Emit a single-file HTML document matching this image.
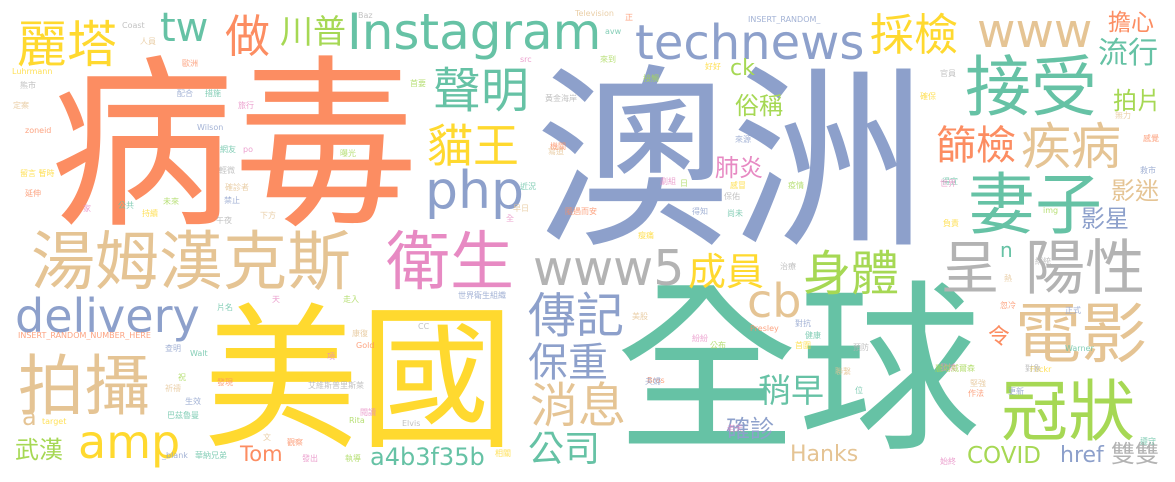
<!DOCTYPE html>
<html><head><meta charset="utf-8">
<style>
html,body{margin:0;padding:0;background:#fff;}
#cloud{position:relative;width:1175px;height:482px;overflow:hidden;background:#fff;}
#cloud span{position:absolute;white-space:nowrap;line-height:1;font-family:"DejaVu Sans","Noto Sans CJK TC",sans-serif;}
</style></head>
<body>
<div id="cloud"></div>
<script>
const O="#fc8d62",B="#8da0cb",G="#66c2a5",Y="#ffd92f",T="#e5c494",P="#e78ac3",L="#a6d854",R="#b3b3b3";
const words=["病毒","澳洲","全球","美國","湯姆漢克斯","衛生","拍攝","amp","delivery","Instagram","technews","tw","做","麗塔","川普","採檢","www","接受","聲明","貓王","php","妻子","呈","陽性","身體","www5","成員","電影","冠狀","傳記","保重","消息","公司","cb","篩檢","疾病","流行","擔心","拍片","肺炎","俗稱","ck","影迷","影星","稍早","確診","Hanks","Tom","武漢","a4b3f35b","COVID","href","雙雙","令","n","a"];
const xs=[50,535,615,203,31,386,18,78,15,347,635,160,225,17,280,870,977,965,433,427,425,968,941,1025,803,533,688,1015,1001,528,528,530,528,747,936,1021,1098,1108,1113,715,735,730,1111,1081,758,726,790,240,15,370,967,1060,1111,988,1000,22];
const ys=[55,64,280,302,231,231,354,419,293,7,19,8,14,20,15,14,8,55,67,123,165,172,239,239,250,244,253,302,379,292,343,382,432,278,126,122,39,12,89,156,94,58,179,207,374,417,444,444,438,445,445,445,442,327,240,405];
const fs=[184,196,183,156,64,64,66,46,46,50,48,40,45,50,33,44,47,66,48,46,52,67,58,60,48,49,38,66,67,48,40,48,36,46,40,50,30,23,24,24,24,22,24,24,33,24,22,21,24,24,23,22,24,22,20,24];
const cs=[O,B,G,Y,T,P,T,Y,B,G,B,G,O,Y,L,Y,T,G,G,Y,B,G,R,R,L,R,Y,T,L,B,B,T,G,T,O,T,G,O,L,P,L,L,T,B,G,B,T,O,L,G,L,B,R,O,G,T];
const smallWords=["Coast","人員","歐洲","配合","措施","旅行","首要","Luhrmann","熊市","定案","zoneid","Wilson","網友","po","曝光","留言 暫時","輕微","確診者","延伸","禁止","公共","家","未來","持續","午夜","下方","INSERT_RANDOM_NUMBER_HERE","世界衛生組織","片名","天","走入","Disney","CC","康復","Gold","查明","Walt","項","祝","需","艾維斯普里斯萊","祈禱","發現","生效","巴茲魯曼","閱讀","Rita","target","Elvis","文","觀察","_blank","華納兄弟","發出","執導","相關","Baz","Television","正","INSERT_RANDOM_","avw","src","來到","好好","黃金海岸","寫道","機關","來源","近況","劇組","日","感冒","保佑","早日","隨遇而安","得知","尚未","全","疫情","瘦痛","治療","美股","Presley","對抗","健康","紛紛","公布","首圍","預防","聯繫","Bros","夫婦","位","老天","接觸","確保","官員","無力","感覺","救市","得宜","世界","img","負責","綁統","熱","忽冷","正式","Warner","發燒","麗塔威爾森","Flickr","對象","堅強","作法","更新","遵守","始終"];
const sx=[122,140,182,177,205,238,410,12,20,13,25,197,220,243,340,20,219,225,25,224,118,83,163,142,216,260,18,458,217,272,343,309,418,352,356,165,190,327,178,295,308,165,217,185,167,360,349,42,402,263,287,162,195,302,345,495,358,575,625,748,605,520,600,705,545,548,550,735,520,660,680,730,724,513,565,692,727,506,788,638,780,632,750,795,805,692,710,795,853,835,647,645,855,727,643,920,940,1115,1143,1140,942,940,1043,943,1035,1004,1000,1065,1065,940,935,1030,1025,970,968,1008,1140,940,866];
const sy=[22,38,60,90,90,102,80,68,82,102,127,124,146,146,150,170,167,184,190,197,202,205,198,210,217,212,332,292,304,296,296,327,323,330,342,345,350,353,374,373,382,385,379,398,412,409,417,418,420,434,439,452,452,455,455,450,12,10,14,16,28,56,56,63,95,148,143,136,183,178,180,182,193,205,208,208,210,215,182,232,263,313,325,320,332,335,342,342,344,368,377,378,387,425,75,93,70,112,135,167,178,180,207,220,258,275,302,307,345,364,365,366,365,380,390,388,438,458];
const c=document.getElementById('cloud');
words.forEach((w,i)=>{
  const s=document.createElement('span');
  s.textContent=w;
  
  
  s.style.left=xs[i]+'px';s.style.top=ys[i]+'px';s.style.fontSize=fs[i]+'px';s.style.color=cs[i];
  c.appendChild(s);
});
const pal=[R,T,O,B,G,P,L,Y];
smallWords.forEach((w,i)=>{
  if(sx[i]===undefined)return;
  const s=document.createElement('span');
  s.textContent=w;
  
  
  s.style.left=sx[i]+'px';s.style.top=sy[i]+'px';s.style.fontSize='8px';s.style.color=pal[i%pal.length];s.style.opacity='0.8';
  c.appendChild(s);
});
</script>
</body></html>
